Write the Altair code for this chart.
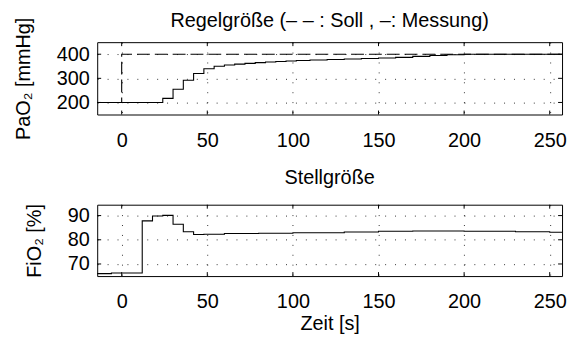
import altair as alt
import pandas as pd

# ---- data ----
t_meas = [-15, 24, 30, 36, 42, 48, 54, 60, 66, 72, 78, 84, 90, 96, 102, 110, 120, 130,
          140, 150, 160, 170, 180, 190, 200, 210, 262]
pao2 = [200, 217, 255, 292, 320, 340, 350, 355, 359, 362, 365, 368, 370, 372, 374, 376,
        378, 380, 382, 384, 387, 391, 395, 398, 400, 400, 400]

t_soll = [-15, 0, 262]
pao2_soll = [200, 400, 400]

t_fio = [-15, -6, 12, 18, 24, 30, 36, 42, 48, 60, 80, 100, 130, 150, 170, 200, 230, 250, 262]
fio2 = [66.0, 66.3, 87.8, 89.8, 90.1, 86.4, 83.3, 82.2, 82.3, 82.6, 82.7, 82.9, 83.2, 83.5,
        83.6, 83.5, 83.3, 83.1, 83.1]

x_ticks = [0, 50, 100, 150, 200, 250]
y1_ticks = [200, 300, 400]
y2_ticks = [70, 80, 90]

X_DOM = [-14.3, 257.2]
Y1_DOM = [150, 450]
Y2_DOM = [65, 94.5]
W = 469
H1 = 73
H2 = 72
FONT = "Liberation Sans"
FS = 20

df_meas = pd.DataFrame({"t": t_meas, "v": pao2})
df_soll = pd.DataFrame({"t": t_soll, "v": pao2_soll})
df_fio = pd.DataFrame({"t": t_fio, "v": fio2})

grid_kw = dict(grid=True, gridColor="#000", gridDash=[1, 9], gridOpacity=0.8,
               ticks=False, tickSize=0, domain=False, labelOverlap=False)


def x_axis(title=None):
    kw = dict(values=x_ticks, labelPadding=16, labelFontSize=FS, labelFont=FONT,
              labelColor="black", labelFlush=False, **grid_kw)
    if title:
        return alt.Axis(title=title, titleFontSize=FS, titleFont=FONT,
                        titleFontWeight="normal", titleColor="black", titlePadding=2, **kw)
    return alt.Axis(title=None, **kw)


def y_axis(ticks, title):
    return alt.Axis(values=ticks, title=title, labelPadding=8, labelFontSize=FS,
                    labelFont=FONT, labelColor="black", titleFontSize=FS,
                    titleFont=FONT, titleFontWeight="normal", titleColor="black",
                    titlePadding=23, **grid_kw)


def panel(layers_data, ydom, yticks, ytitle, xtitle, h):
    xsc = alt.Scale(domain=X_DOM, nice=False, zero=False)
    ysc = alt.Scale(domain=ydom, nice=False, zero=False)
    xa = x_axis(xtitle)
    ya = y_axis(yticks, ytitle)
    X = lambda: alt.X("t:Q", scale=xsc, axis=xa)
    Y = lambda: alt.Y("v:Q", scale=ysc, axis=ya)
    layers = []
    for df, dash in layers_data:
        kw = dict(color="black", strokeWidth=1.1, interpolate="step-after", clip=True)
        if dash:
            kw["strokeDash"] = dash
        layers.append(alt.Chart(df).mark_line(**kw).encode(x=X(), y=Y()))
    df_xt = pd.DataFrame({"t": x_ticks})
    df_yt = pd.DataFrame({"v": yticks})
    rk = dict(color="black", strokeWidth=1)
    layers.append(alt.Chart(df_xt).mark_rule(**rk).encode(x=X(), y=alt.value(0), y2=alt.value(4)))
    layers.append(alt.Chart(df_xt).mark_rule(**rk).encode(x=X(), y=alt.value(h - 4), y2=alt.value(h)))
    layers.append(alt.Chart(df_yt).mark_rule(**rk).encode(y=Y(), x=alt.value(0), x2=alt.value(4)))
    layers.append(alt.Chart(df_yt).mark_rule(**rk).encode(y=Y(), x=alt.value(W - 4), x2=alt.value(W)))
    return alt.layer(*layers)


top = panel([(df_meas, None), (df_soll, [13, 5])], Y1_DOM, y1_ticks, "PaO₂ [mmHg]",
            None, H1).properties(
    width=W, height=H1,
    title=alt.TitleParams("Regelgröße (– – : Soll , –: Messung)", fontSize=FS, font=FONT,
                          fontWeight="normal", color="black", offset=-14, frame="group"))

bottom = panel([(df_fio, None)], Y2_DOM, y2_ticks, "FiO₂ [%]", "Zeit [s]", H2).properties(
    width=W, height=H2,
    title=alt.TitleParams("Stellgröße", fontSize=FS, font=FONT, fontWeight="normal",
                          color="black", offset=16, frame="group"))

chart = alt.vconcat(top, bottom, spacing=91, bounds="flush").properties(
    padding={"left": 5, "top": 1, "right": 0, "bottom": 0},
    background="white",
).configure_view(stroke="black", strokeWidth=1).configure_axis(labelOverlap=False)

chart.save("out.html", embed_options={"renderer": "svg", "actions": False})
